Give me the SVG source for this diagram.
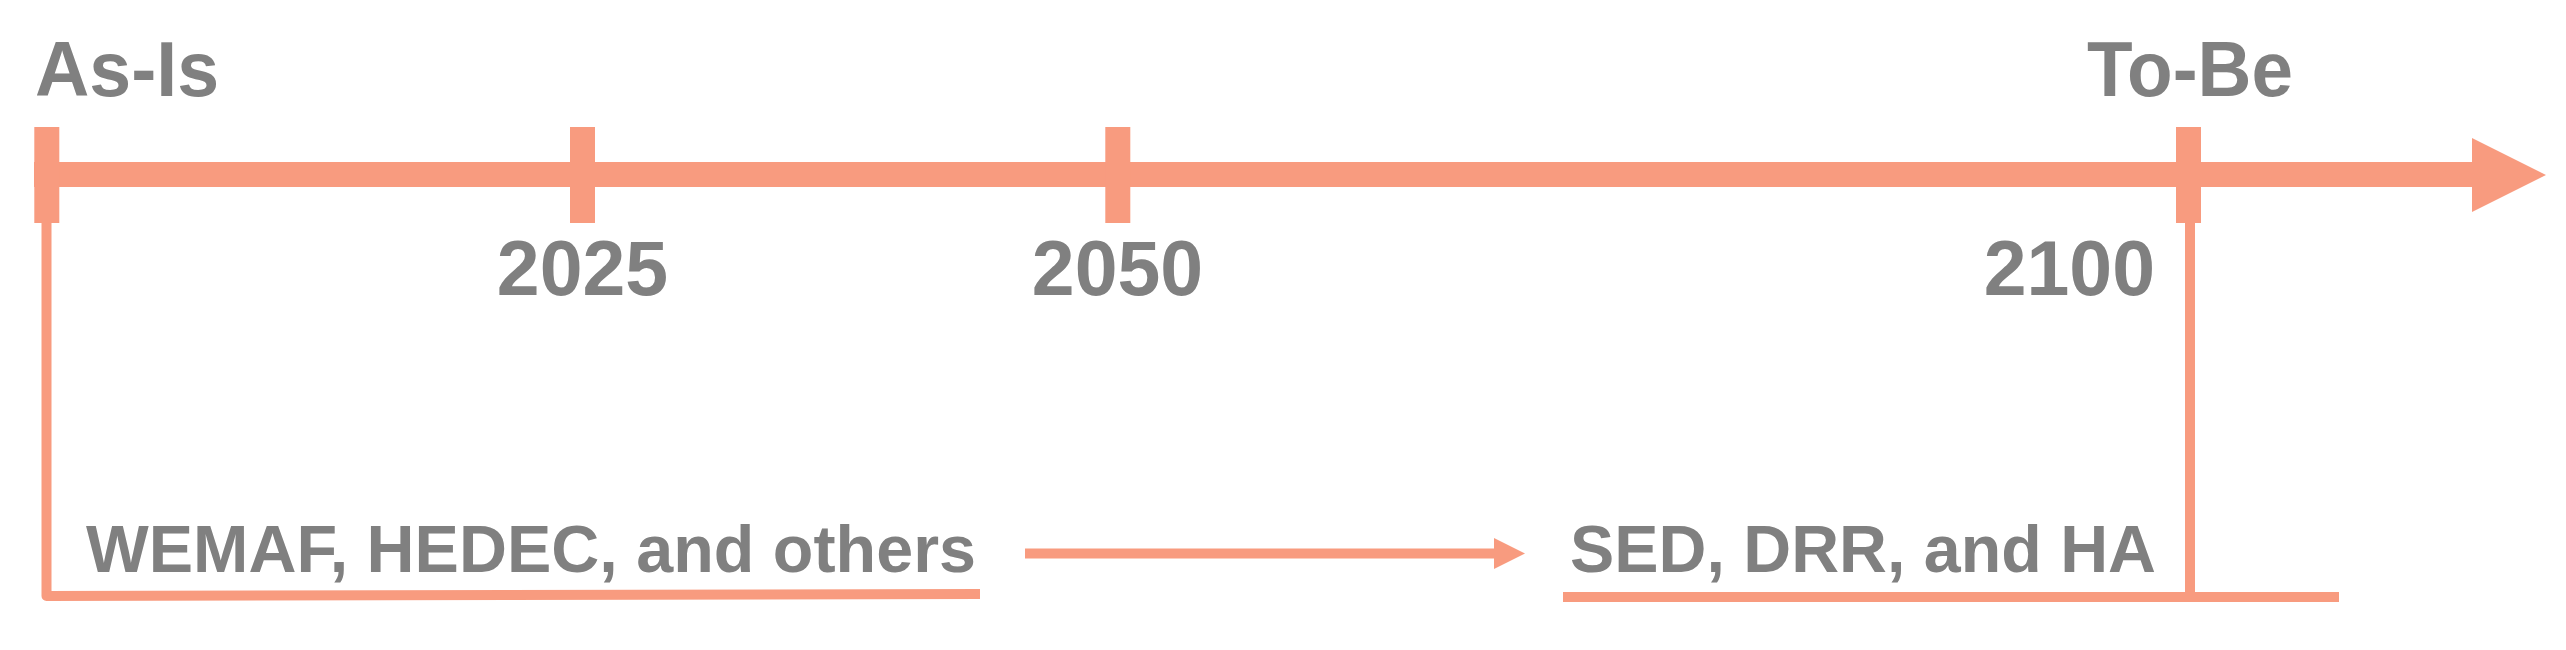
<svg xmlns="http://www.w3.org/2000/svg" width="2566" height="650" viewBox="0 0 2566 650">
<style>
.lbl{font-family:"Liberation Sans",Arial,sans-serif;font-weight:bold;fill:#808080}
.big{font-size:77px}
.mid{font-size:66px}
.sal{fill:#F89B7F}
.ln{fill:none;stroke:#F89B7F;stroke-width:10}
</style>
<rect width="2566" height="650" fill="#ffffff"/>
<g id="timeline">
<rect class="sal" x="34" y="162" width="2440" height="25"/>
<polygon class="sal" points="2472,138 2546,175 2472,212"/>
</g>
<g id="tick-asis"><rect class="sal" x="34.3" y="127" width="25" height="96"/></g>
<g id="tick-2025"><rect class="sal" x="570" y="127" width="25" height="96"/><text class="lbl big" x="582.5" y="295" text-anchor="middle">2025</text></g>
<g id="tick-2050"><rect class="sal" x="1105.3" y="127" width="25" height="96"/><text class="lbl big" x="1117.5" y="295" text-anchor="middle">2050</text></g>
<g id="tick-2100"><rect class="sal" x="2176" y="127" width="25" height="96"/><text class="lbl big" x="2155" y="295" text-anchor="end">2100</text></g>
<g id="asis"><text class="lbl big" x="35" y="96" textLength="184" lengthAdjust="spacingAndGlyphs">As-Is</text></g>
<g id="tobe"><text class="lbl big" x="2087" y="96" textLength="206" lengthAdjust="spacingAndGlyphs">To-Be</text></g>
<g id="current"><text class="lbl mid" x="86" y="572" textLength="890" lengthAdjust="spacingAndGlyphs">WEMAF, HEDEC, and others</text></g>
<g id="future"><text class="lbl mid" x="1570" y="572" textLength="586" lengthAdjust="spacingAndGlyphs">SED, DRR, and HA</text></g>
<g id="connectors">
<path class="ln" d="M46.5,222 V596 L980,594" stroke-linejoin="round"/>
<path class="ln" d="M2190,222 V597"/>
<path class="ln" d="M1563,597 H2339"/>
<path class="ln" d="M1025,553.5 H1496"/>
<polygon class="sal" points="1494,538 1525,553.5 1494,569"/>
</g>
</svg>
